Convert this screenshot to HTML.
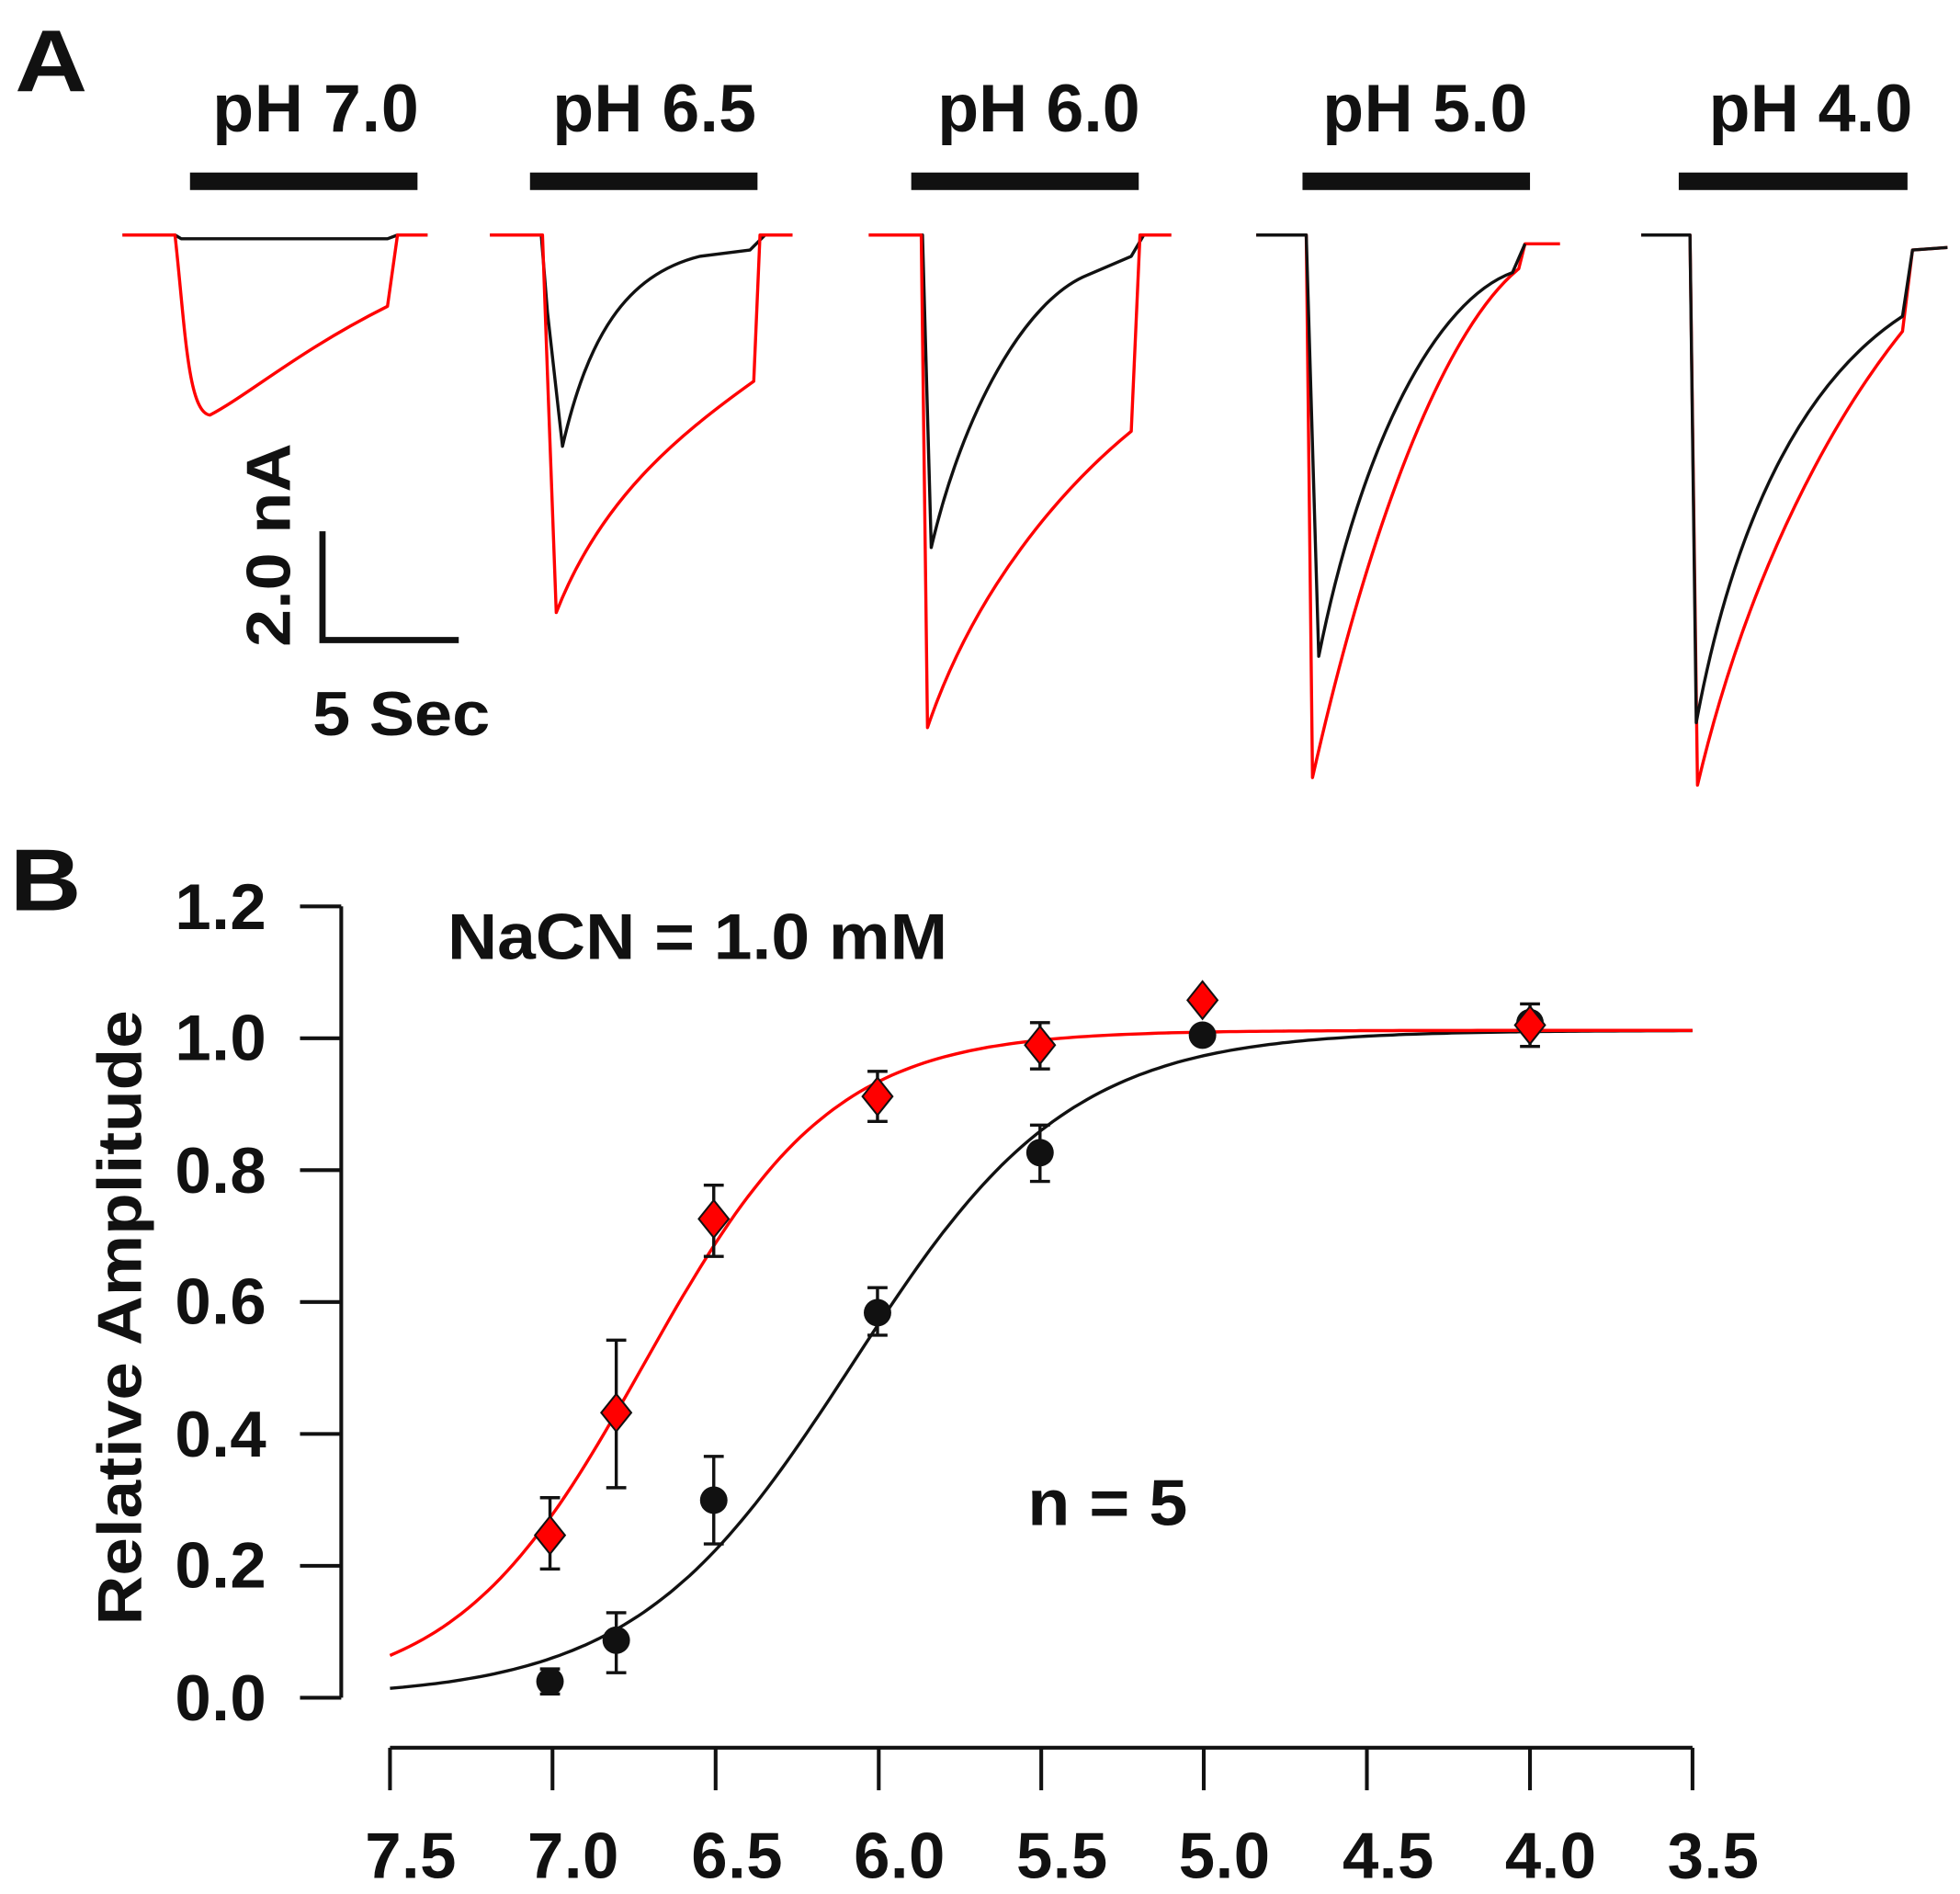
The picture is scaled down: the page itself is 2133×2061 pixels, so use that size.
<!DOCTYPE html>
<html><head><meta charset="utf-8"><style>
html,body{margin:0;padding:0;background:#fff;}
svg{display:block;}
text{font-family:"Liberation Sans",Arial,sans-serif;font-weight:bold;fill:#111;}
</style></head><body>
<svg id="s" width="2133" height="2061" viewBox="0 0 1568 1515" preserveAspectRatio="none" xmlns="http://www.w3.org/2000/svg">
<text x="12" y="73" font-size="70" textLength="58" lengthAdjust="spacingAndGlyphs">A</text>
<g font-size="54" lengthAdjust="spacingAndGlyphs">
<text x="170" y="105" textLength="165">pH 7.0</text>
<text x="442" y="105" textLength="163">pH 6.5</text>
<text x="750" y="105" textLength="162">pH 6.0</text>
<text x="1058" y="105" textLength="164">pH 5.0</text>
<text x="1367" y="105" textLength="163">pH 4.0</text>
</g>
<g fill="#111">
<rect x="152" y="138" width="182" height="14"/>
<rect x="424" y="138" width="182" height="14"/>
<rect x="729" y="138" width="182" height="14"/>
<rect x="1042" y="138" width="182" height="14"/>
<rect x="1343" y="138" width="183" height="14"/>
</g>
<g fill="none" stroke-width="2.5" stroke-linejoin="round">
<path stroke="#111" d="M98,188 L140,188 L145,191 L310,191 L318,188 L342,188"/>
<path stroke="#f00" d="M98,188 L140,188 C148,260 150,330 168,332 C200,315 240,280 310,245 L318,188 L342,188"/>
<path stroke="#111" d="M392,188 L433,188 L438,250 L450,357 C470,270 500,220 560,205 L600,200 L612,188 L634,188"/>
<path stroke="#f00" d="M392,188 L434,188 L438,300 L445,490 C480,400 540,350 603,305 L608,188 L634,188"/>
<path stroke="#111" d="M695,188 L738,188 L745,438 C770,330 820,240 870,220 L905,205 L915,188 L937,188"/>
<path stroke="#f00" d="M695,188 L737,188 L742,582 C780,470 850,390 905,345 L912,188 L937,188"/>
<path stroke="#f00" d="M1005,188 L1045,188 L1050,622 C1100,400 1160,260 1215,215 L1220,195 L1248,195"/>
<path stroke="#111" d="M1005,188 L1045,188 L1055,525 C1090,350 1150,240 1210,218 L1220,195"/>
<path stroke="#f00" d="M1313,188 L1352,188 L1358,628 C1400,450 1470,330 1522,265 L1530,200 L1558,198"/>
<path stroke="#111" d="M1313,188 L1352,188 L1357,578 C1390,400 1450,300 1522,253 L1530,200 L1558,198"/>
</g>
<path d="M258,425 L258,512 L367,512" fill="none" stroke="#111" stroke-width="5"/>
<text font-size="50" transform="translate(232,436) rotate(-90)" text-anchor="middle" textLength="163" lengthAdjust="spacingAndGlyphs">2.0 nA</text>
<text x="250" y="588" font-size="50" textLength="142" lengthAdjust="spacingAndGlyphs">5 Sec</text>

<text x="8" y="728" font-size="70" textLength="57" lengthAdjust="spacingAndGlyphs">B</text>
<g stroke="#111" stroke-width="3" fill="none">
<path d="M273,725 L273,1358"/>
<path d="M240,725H273M240,830.5H273M240,936H273M240,1041.5H273M240,1147H273M240,1252.5H273M240,1358H273"/>
<path d="M312,1398 L1354,1398"/>
<path d="M312,1398V1432M442,1398V1432M572.5,1398V1432M703,1398V1432M833,1398V1432M963,1398V1432M1093.5,1398V1432M1224,1398V1432M1354,1398V1432"/>
</g>
<g font-size="52" lengthAdjust="spacingAndGlyphs">
<text x="140" y="743" textLength="73">1.2</text><text x="140" y="848" textLength="73">1.0</text><text x="140" y="954" textLength="73">0.8</text>
<text x="140" y="1059" textLength="73">0.6</text><text x="140" y="1165" textLength="73">0.4</text><text x="140" y="1270" textLength="73">0.2</text><text x="140" y="1376" textLength="73">0.0</text>
</g>
<g font-size="52" lengthAdjust="spacingAndGlyphs">
<text x="292" y="1502" textLength="73">7.5</text><text x="422" y="1502" textLength="73">7.0</text><text x="553" y="1502" textLength="73">6.5</text>
<text x="683" y="1502" textLength="73">6.0</text><text x="813" y="1502" textLength="73">5.5</text><text x="943" y="1502" textLength="73">5.0</text>
<text x="1074" y="1502" textLength="73">4.5</text><text x="1204" y="1502" textLength="73">4.0</text><text x="1334" y="1502" textLength="73">3.5</text>
</g>
<text font-size="50" transform="translate(113,1054) rotate(-90)" text-anchor="middle" textLength="492" lengthAdjust="spacingAndGlyphs">Relative Amplitude</text>
<text x="358" y="767" font-size="52" textLength="400" lengthAdjust="spacingAndGlyphs">NaCN = 1.0 mM</text>
<text x="822" y="1220" font-size="52" textLength="128" lengthAdjust="spacingAndGlyphs">n = 5</text>
<g id="curves" fill="none" stroke-width="2.5"></g>
<g id="pts"></g>
</svg>
<script>
var X=function(p){return 312+(7.5-p)*260.5;},Y=function(v){return 1358-v*527.5;};
function curve(pk,n,col){var d="";for(var p=7.5;p>=3.499;p-=0.02){var v=1.012/(1+Math.pow(10,n*(p-pk)));d+=(d?"L":"M")+X(p).toFixed(1)+","+Y(v).toFixed(1);}
var e=document.createElementNS("http://www.w3.org/2000/svg","path");e.setAttribute("d",d);e.setAttribute("stroke",col);e.setAttribute("stroke-width","2.5");e.setAttribute("fill","none");document.getElementById("curves").appendChild(e);}
curve(6.08,1.3,"#111");curve(6.72,1.5,"#f00");
var g=document.getElementById("pts"),h="";
var blk=[[440,1345,1335,1355],[493,1312,1290,1338],[571,1200,1165,1235],[702,1050,1030,1068],[832,922,900,945],[962,828,828,828],[1224,818,818,818]];
var red=[[440,1228,1198,1255],[493,1130,1072,1190],[571,975,948,1005],[702,877,857,897],[832,836,818,855],[962,800,800,800],[1224,820,803,837]];
function eb(a){return a[2]<a[3]?'<path d="M'+a[0]+','+a[2]+'V'+a[3]+'M'+(a[0]-8)+','+a[2]+'h16M'+(a[0]-8)+','+a[3]+'h16" stroke="#111" stroke-width="2.5" fill="none"/>':'';}
blk.forEach(function(a){h+=eb(a)+'<circle cx="'+a[0]+'" cy="'+a[1]+'" r="11" fill="#111"/>';});
red.forEach(function(a){h+=eb(a)+'<path d="M'+a[0]+','+(a[1]-15)+'l12,15l-12,15l-12,-15z" fill="#f00" stroke="#111" stroke-width="1.5"/>';});
g.innerHTML=h;
</script>
</body></html>
